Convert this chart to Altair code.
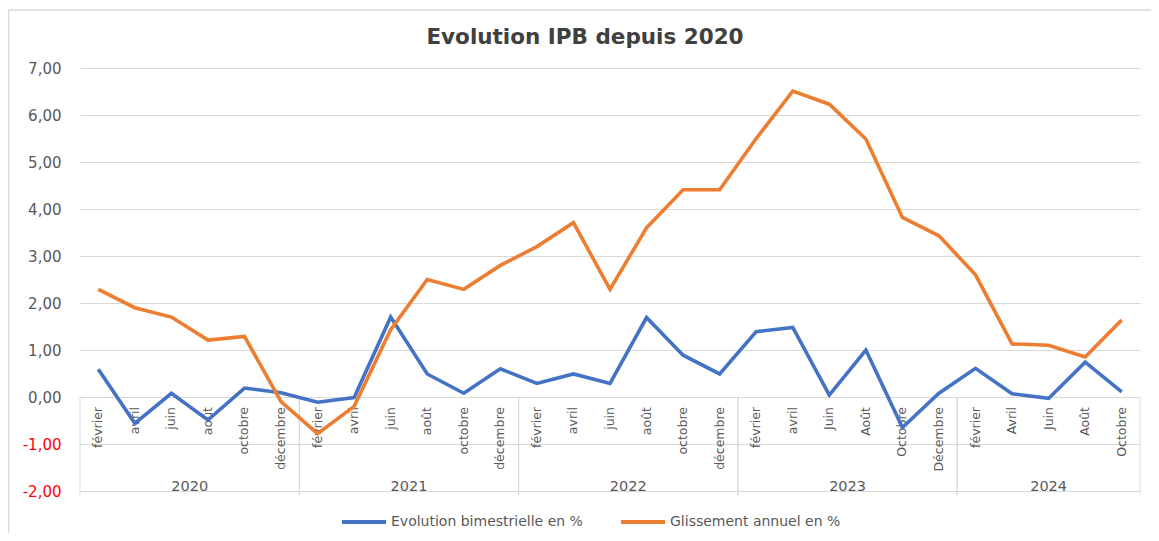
import altair as alt
import pandas as pd

# ---- data ----
years = ["2020"] * 6 + ["2021"] * 6 + ["2022"] * 6 + ["2023"] * 6 + ["2024"] * 5
months = [
    "février", "avril", "juin", "août", "octobre", "décembre",
    "février", "avril", "juin", "août", "octobre", "décembre",
    "février", "avril", "juin", "août", "octobre", "décembre",
    "février", "avril", "Juin", "Août", "Octobre", "Décembre",
    "février", "Avril", "Juin", "Août", "Octobre",
]
bimestrielle = [
    0.59, -0.56, 0.08, -0.49, 0.19, 0.09,
    -0.11, -0.01, 1.70, 0.49, 0.08, 0.60,
    0.29, 0.49, 0.29, 1.69, 0.89, 0.49,
    1.39, 1.48, 0.04, 1.00, -0.65, 0.08,
    0.61, 0.07, -0.03, 0.74, 0.11,
]
glissement = [
    2.29, 1.90, 1.70, 1.21, 1.29, -0.10,
    -0.78, -0.20, 1.43, 2.50, 2.29, 2.80,
    3.20, 3.71, 2.29, 3.60, 4.41, 4.41,
    5.50, 6.51, 6.23, 5.49, 3.82, 3.43,
    2.60, 1.13, 1.10, 0.85, 1.64,
]
y_ticks = [-2, -1, 0, 1, 2, 3, 4, 5, 6, 7]
series_names = ["Evolution bimestrielle en %", "Glissement annuel en %"]
series_colors = ["#4472C4", "#ED7D31"]

df = pd.DataFrame({
    "idx": list(range(len(months))),
    "year": years,
    "month": months,
    series_names[0]: bimestrielle,
    series_names[1]: glissement,
})

FONT = "DejaVu Sans"
GRID = "#d9d9d9"
TXT = "#595959"

x_scale = alt.Scale(domain=[-0.5, len(months) - 0.5], nice=False, zero=False)
y_scale = alt.Scale(domain=[y_ticks[0], y_ticks[-1]], nice=False)

base = alt.Chart(df)

label_expr = "(datum.value < 0 ? '-' : '') + replace(format(abs(datum.value), '.2f'), '.', ',')"

lines = base.transform_fold(series_names, as_=["serie", "valeur"]).mark_line(
    strokeWidth=3.6
).encode(
    x=alt.X("idx:Q", scale=x_scale, axis=None),
    y=alt.Y(
        "valeur:Q",
        scale=y_scale,
        axis=alt.Axis(
            values=y_ticks, title=None, domain=False, ticks=False, grid=True,
            gridColor=GRID, gridWidth=1, labelPadding=19, labelFont=FONT,
            labelFontSize=15, labelExpr=label_expr,
            labelColor={"condition": {"test": "datum.value < 0", "value": "#FF0000"}, "value": TXT},
        ),
    ),
    color=alt.Color(
        "serie:N",
        scale=alt.Scale(domain=series_names, range=series_colors),
        legend=alt.Legend(
            title=None, orient="none", legendX=260, legendY=430,
            direction="horizontal", symbolType="stroke", symbolSize=1936,
            symbolStrokeWidth=4, labelFont=FONT, labelFontSize=14,
            labelColor=TXT, columnPadding=30, labelOffset=3, labelLimit=400,
        ),
    ),
)

month_text = base.mark_text(
    angle=270, align="right", baseline="middle", dx=-10,
    font=FONT, fontSize=12.5, color=TXT,
).encode(
    x=alt.X("idx:Q", scale=x_scale, axis=None),
    y=alt.YDatum(0, title=None),
    text="month:N",
)

year_text = base.transform_aggregate(
    mid="mean(idx)", groupby=["year"]
).mark_text(
    baseline="alphabetic", dy=0, font=FONT, fontSize=14.5, color=TXT,
).encode(
    x=alt.X("mid:Q", scale=x_scale, axis=None),
    y=alt.YDatum(y_ticks[0], title=None),
    text="year:N",
)

separators = base.transform_aggregate(
    lo="min(idx)", hi="max(idx)", groupby=["year"]
).transform_calculate(
    start="datum.lo - 0.5", end="datum.hi + 0.5"
).transform_fold(["start", "end"], as_=["k", "edge"]).mark_rule(
    color=GRID, strokeWidth=1, y2Offset=4
).encode(
    x=alt.X("edge:Q", scale=x_scale, axis=None),
    y=alt.YDatum(0, title=None),
    y2=alt.Y2Datum(y_ticks[0]),
)

frame_df = pd.DataFrame({"f": [0]})
frame_v = alt.Chart(frame_df).mark_rule(color=GRID, strokeWidth=1.5).encode(
    x=alt.value(-71.5), y=alt.value(-58), y2=alt.value(600)
)
frame_h = alt.Chart(frame_df).mark_rule(color=GRID, strokeWidth=1.5).encode(
    x=alt.value(-71.5), x2=alt.value(1200), y=alt.value(-58)
)

chart = alt.layer(
    frame_v, frame_h, separators, month_text, year_text, lines
).properties(
    width=1060,
    height=423,
    autosize=alt.AutoSizeParams(type="none"),
    padding={"left": 72, "top": 60, "right": 11, "bottom": 42},
    background="white",
    title=alt.TitleParams(
        "Evolution IPB depuis 2020", font=FONT, fontSize=21.5, fontWeight="bold",
        color="#404040", anchor="middle", dx=-25, offset=-39,
    ),
).configure_view(stroke=None)

chart.save("out.html", embed_options={"renderer": "svg", "actions": False})
